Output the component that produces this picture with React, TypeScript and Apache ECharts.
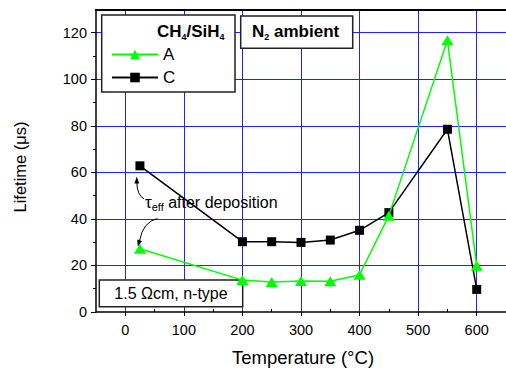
import React, { useEffect, useRef } from 'react';
import * as echarts from 'echarts';

const temperatures = [25, 200, 250, 300, 350, 400, 450, 550, 600];
const lifetimeA = [27.2, 13.7, 12.9, 13.3, 13.2, 16.0, 41.4, 116.7, 19.9];
const lifetimeC = [62.8, 30.2, 30.2, 29.9, 30.9, 35.1, 42.7, 78.5, 9.7];
const seriesNames = ['A', 'C'];
const xMajorTicks = [0, 100, 200, 300, 400, 500, 600];
const xMinorTicks = [50, 150, 250, 350, 450, 550, 650];
const yMajorTicks = [0, 20, 40, 60, 80, 100, 120];
const yMinorTicks = [10, 30, 50, 70, 90, 110];

const FONT = 'Liberation Sans, Arial, sans-serif';

export default function App() {
  const ref = useRef<HTMLDivElement>(null);
  useEffect(() => {
    if (!ref.current) return;
    const chart = echarts.init(ref.current, undefined, { renderer: 'svg' });
    const xRange = { min: -50, max: 650 };
    const yRange = { min: 0, max: 130 };
    const option: any = {
      animation: false,
      backgroundColor: '#fff',
      textStyle: { fontFamily: FONT },
      grid: { left: 96, right: -2, top: 9.4, bottom: 56, containLabel: false },
      legend: {
        data: seriesNames,
        orient: 'vertical',
        left: 111,
        top: 46,
        itemWidth: 46,
        itemHeight: 12,
        itemGap: 6,
        padding: 0,
        z: 6,
        textStyle: { fontSize: 17, lineHeight: 13, color: '#000', fontFamily: FONT },
      },
      xAxis: [
        {
          type: 'value',
          ...xRange,
          position: 'bottom',
          axisLine: { show: true, onZero: false, lineStyle: { color: '#000', width: 1.5 } },
          axisTick: { show: true, inside: false, length: 4, customValues: xMajorTicks, lineStyle: { color: '#000', width: 1 } },
          axisLabel: { show: true, customValues: xMajorTicks, margin: 10, fontSize: 14.5, color: '#000', fontFamily: FONT },
          splitLine: { show: true, lineStyle: { color: '#2222ff', width: 1 } },
        },
        {
          type: 'value',
          ...xRange,
          position: 'bottom',
          axisLine: { show: false, onZero: false },
          axisTick: { show: true, inside: true, length: 3, customValues: xMinorTicks, lineStyle: { color: '#000', width: 1 } },
          axisLabel: { show: false },
          splitLine: { show: false },
        },
        {
          type: 'value',
          ...xRange,
          position: 'top',
          axisLine: { show: true, onZero: false, lineStyle: { color: '#000', width: 2 } },
          axisTick: { show: false },
          axisLabel: { show: false },
          splitLine: { show: false },
        },
      ],
      yAxis: [
        {
          type: 'value',
          ...yRange,
          position: 'left',
          axisLine: { show: true, onZero: false, lineStyle: { color: '#000', width: 1.5 } },
          axisTick: { show: true, inside: false, length: 5, customValues: yMajorTicks, lineStyle: { color: '#000', width: 1 } },
          axisLabel: { show: true, customValues: yMajorTicks, margin: 9, fontSize: 14.5, color: '#000', fontFamily: FONT },
          splitLine: { show: true, showMinLine: false, lineStyle: { color: '#2222ff', width: 1 } },
        },
        {
          type: 'value',
          ...yRange,
          position: 'left',
          axisLine: { show: false, onZero: false },
          axisTick: { show: true, inside: false, length: 3, customValues: yMinorTicks, lineStyle: { color: '#000', width: 1 } },
          axisLabel: { show: false },
          splitLine: { show: false },
        },
      ],
      series: [
        {
          name: 'C',
          type: 'line',
          xAxisIndex: 0,
          yAxisIndex: 0,
          data: temperatures.map((t, i) => [t, lifetimeC[i]]),
          symbol: 'rect',
          symbolSize: 9,
          itemStyle: { color: '#000' },
          lineStyle: { color: '#000', width: 1.5 },
          z: 2,
        },
        {
          name: 'A',
          type: 'line',
          xAxisIndex: 0,
          yAxisIndex: 0,
          data: temperatures.map((t, i) => [t, lifetimeA[i]]),
          symbol: 'triangle',
          symbolSize: [12, 10],
          itemStyle: { color: '#00ff00' },
          lineStyle: { color: '#00ff00', width: 1.5 },
          z: 3,
        },
      ],
      graphic: [
        { type: 'rect', z: 1, shape: { x: 101.7, y: 15, width: 133.3, height: 77 }, style: { fill: '#fff', stroke: '#222', lineWidth: 1.5 } },
        { type: 'rect', z: 1, shape: { x: 240.7, y: 16, width: 112, height: 32.3 }, style: { fill: '#fff', stroke: '#222', lineWidth: 1.5 } },
        { type: 'rect', z: 1, shape: { x: 99.3, y: 280, width: 143.4, height: 26.7 }, style: { fill: '#fff', stroke: '#222', lineWidth: 1.5 } },
        {
          type: 'text', z: 6, x: 157, y: 21.7,
          style: {
            text: '{b|CH}{s|4}{b|/SiH}{s|4}',
            verticalAlign: 'top',
            fill: '#000',
            rich: {
              b: { fontSize: 17, fontWeight: 'bold', fontFamily: FONT, lineHeight: 20, fill: '#000' },
              s: { fontSize: 9, fontWeight: 'bold', fontFamily: FONT, lineHeight: 2, verticalAlign: 'bottom', fill: '#000' },
            },
          },
        },
        {
          type: 'text', z: 6, x: 252, y: 21.7,
          style: {
            text: '{b|N}{s|2}{b| ambient}',
            verticalAlign: 'top',
            fill: '#000',
            rich: {
              b: { fontSize: 17, fontWeight: 'bold', fontFamily: FONT, lineHeight: 20, fill: '#000' },
              s: { fontSize: 9, fontWeight: 'bold', fontFamily: FONT, lineHeight: 2, verticalAlign: 'bottom', fill: '#000' },
            },
          },
        },
        {
          type: 'text', z: 6, x: 171, y: 293.5,
          style: { text: '1.5 Ωcm, n-type', fontSize: 16, fontFamily: FONT, fill: '#000', align: 'center', verticalAlign: 'middle' },
        },
        {
          type: 'text', z: 6, x: 145, y: 192.7,
          style: {
            text: '{t|τ}{s|eff}{n| after deposition}',
            verticalAlign: 'top',
            fill: '#000',
            rich: {
              t: { fontSize: 17, fontFamily: FONT, lineHeight: 20, fill: '#000' },
              s: { fontSize: 11, fontFamily: FONT, lineHeight: 2, verticalAlign: 'bottom', fill: '#000' },
              n: { fontSize: 16, fontFamily: FONT, lineHeight: 20, fill: '#000' },
            },
          },
        },
        { type: 'bezierCurve', z: 6, shape: { x1: 144, y1: 199, cpx1: 137, cpy1: 195, x2: 136.8, y2: 182 }, style: { stroke: '#000', lineWidth: 1, fill: 'none' } },
        { type: 'polygon', z: 6, shape: { points: [[136.8, 176.5], [134.4, 183.5], [139.2, 183.5]] }, style: { fill: '#000' } },
        { type: 'bezierCurve', z: 6, shape: { x1: 157.3, y1: 218.5, cpx1: 143, cpy1: 222, x2: 139.6, y2: 240.5 }, style: { stroke: '#000', lineWidth: 1, fill: 'none' } },
        { type: 'polygon', z: 6, shape: { points: [[137.8, 246.5], [142, 240.9], [137.2, 239.5]] }, style: { fill: '#000' } },
        {
          type: 'text', z: 6, x: 20, y: 167, rotation: Math.PI / 2,
          style: { text: 'Lifetime (μs)', fontSize: 16.5, fontFamily: FONT, fill: '#000', align: 'center', verticalAlign: 'middle' },
        },
        {
          type: 'text', z: 6, x: 303, y: 357,
          style: { text: 'Temperature (°C)', fontSize: 18.5, fontFamily: FONT, fill: '#000', align: 'center', verticalAlign: 'middle' },
        },
      ],
    };
    chart.setOption(option);
    return () => chart.dispose();
  }, []);
  return <div ref={ref} style={{ position: 'fixed', left: 0, top: 0, width: 506, height: 368 }} />;
}
